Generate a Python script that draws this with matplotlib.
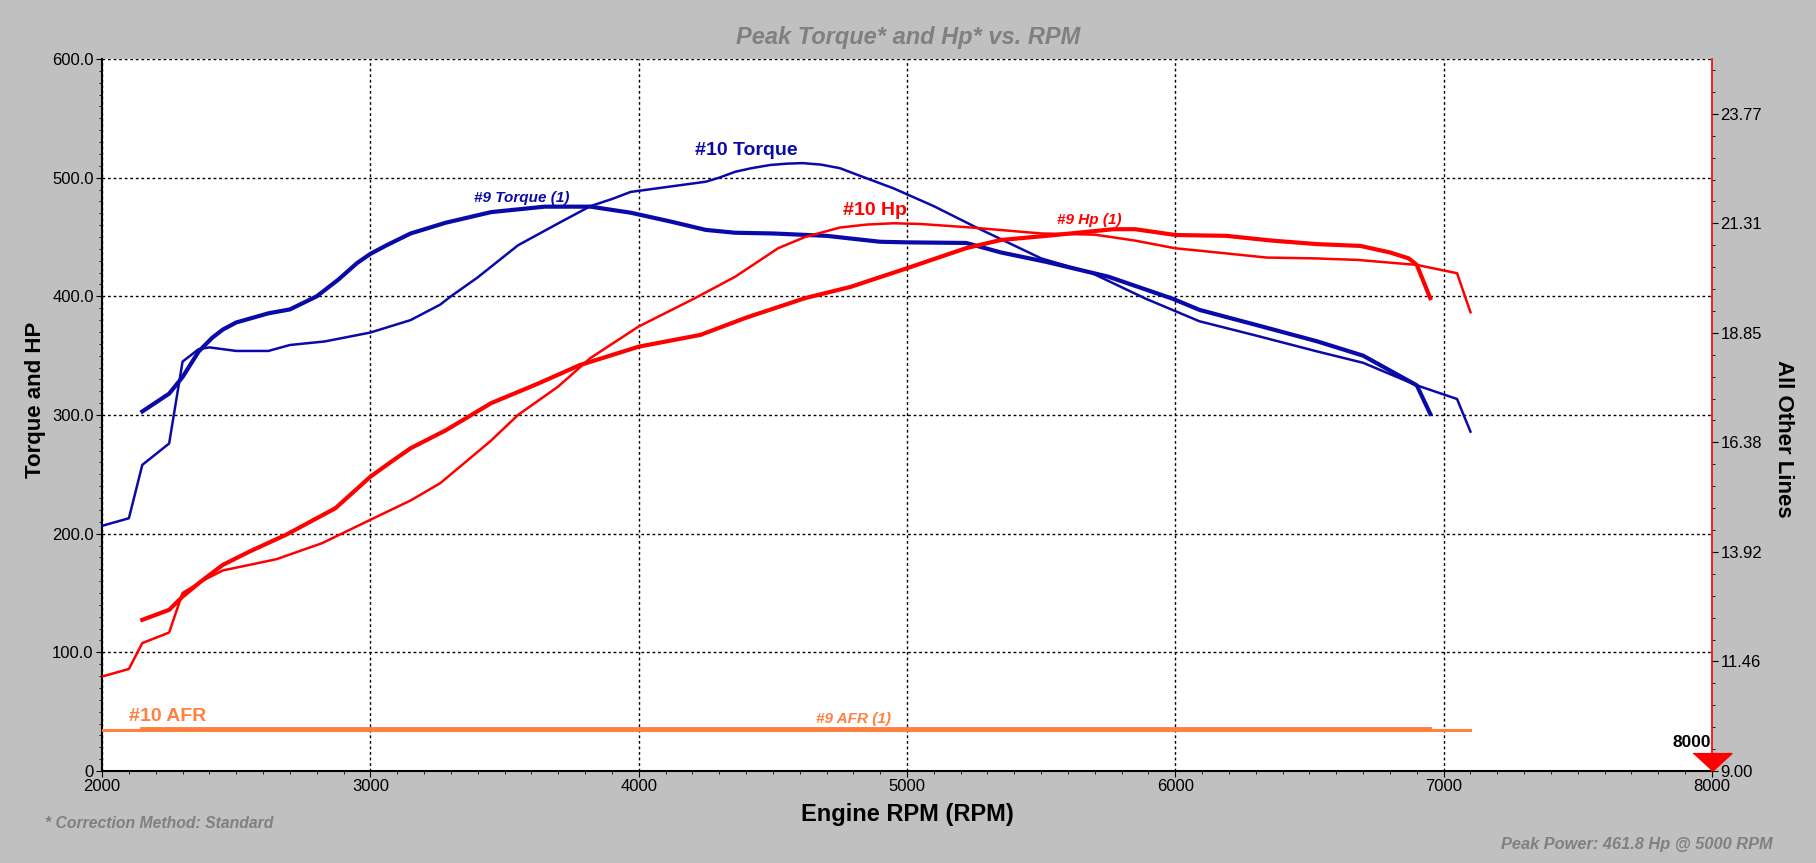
import matplotlib
matplotlib.use("Agg")
import matplotlib.pyplot as plt
from matplotlib.ticker import MultipleLocator, FixedLocator, FuncFormatter

plt.rcParams["font.family"] = ["Liberation Sans", "DejaVu Sans"]

# ---- data ----
rpm_tq10 = [2000, 2100, 2150, 2250, 2300, 2360, 2400, 2500, 2620, 2700, 2830, 3000, 3150, 3260,
            3300, 3400, 3550, 3700, 3820, 3900, 3970, 4100, 4250, 4300, 4360, 4420, 4490, 4550,
            4610, 4680, 4750, 4820, 4950, 5000, 5100, 5250, 5500, 5690, 5890, 6090, 6300, 6530,
            6700, 6900, 7050, 7100]
tq10 = [206.6, 213, 258, 276, 345, 355.5, 357, 354, 354, 359, 362, 369.5, 380, 393,
        400, 416, 443, 461.5, 476, 482, 488, 492, 496.6, 500, 505, 508, 510.7, 511.8,
        512.3, 511, 508, 502, 491, 486, 476, 459, 432, 419.5, 398, 379, 367, 353.5,
        344, 325, 313.5, 286]

rpm_tq9 = [2150, 2250, 2300, 2360, 2410, 2450, 2500, 2620, 2700, 2800, 2880, 2950, 3000, 3060,
           3150, 3280, 3450, 3650, 3820, 3970, 4120, 4250, 4360, 4500, 4700, 4900, 5000, 5220,
           5350, 5520, 5750, 5990, 6090, 6300, 6530, 6700, 6900, 6950]
tq9 = [303, 318, 332, 353.5, 365, 372, 378, 385.7, 389, 400, 414, 428, 435.8, 443,
       453, 462, 471, 475.6, 475.6, 470.5, 463, 456, 453.6, 453, 451, 446, 445.5, 445,
       437, 429, 416.6, 398, 388.6, 376, 362, 350, 325, 301]

rpm_hp10 = [2000, 2100, 2150, 2250, 2300, 2380, 2450, 2650, 2820, 3000, 3150, 3260, 3350, 3450,
            3550, 3700, 3820, 4000, 4210, 4360, 4520, 4620, 4750, 4850, 4950, 5050, 5240, 5500,
            5700, 5850, 6000, 6090, 6340, 6520, 6680, 6900, 7050, 7100]
hp10 = [79.6, 86, 107.8, 116.7, 150, 161, 169, 178.5, 192, 211.7, 228, 242.5, 259.5, 278.5,
        300, 324, 348, 374.6, 398.5, 416.6, 440.6, 450, 458, 460.5, 461.6, 461, 458, 453,
        452, 447, 440.5, 438.5, 432.7, 432, 430.7, 426.5, 419.5, 386.6]

rpm_hp9 = [2150, 2250, 2300, 2370, 2450, 2550, 2685, 2870, 3000, 3080, 3150, 3280, 3450, 3620,
           3780, 4000, 4230, 4400, 4620, 4790, 5000, 5220, 5350, 5520, 5770, 5850, 6000, 6190,
           6360, 6530, 6690, 6800, 6870, 6900, 6950]
hp9 = [127.4, 135.8, 147, 160, 173.7, 185, 199, 221.5, 248, 261, 272, 287, 310, 326,
       342, 357.6, 367.5, 382, 398.5, 408, 423.7, 440.6, 447.5, 451, 456.6, 456.6, 451.7, 451,
       447, 444, 442.5, 437, 432, 426.5, 398.5]

rpm_afr10 = [2000, 7100]
afr10 = [9.93, 9.93]
rpm_afr9 = [2150, 6950]
afr9 = [9.95, 9.95]

right_ticks = [9 + k * 16 / 6.5 for k in range(7)]

BLUE = "#0A0AA8"
RED = "#FF0000"
ORANGE = "#FF8040"
GREY_TXT = "#808080"

fig = plt.figure(figsize=(18.16, 8.63), dpi=100, facecolor="#C0C0C0")
ax = fig.add_axes([0.0562, 0.1066, 0.8865, 0.825])
ax.set_facecolor("white")

ax.plot(rpm_tq10, tq10, color=BLUE, lw=1.8, zorder=3)
ax.plot(rpm_tq9, tq9, color=BLUE, lw=3.0, zorder=3)
ax.plot(rpm_hp10, hp10, color=RED, lw=1.8, zorder=3)
ax.plot(rpm_hp9, hp9, color=RED, lw=3.0, zorder=3)

ax.set_xlim(2000, 8000)
ax.set_ylim(0, 600)
ax.xaxis.set_major_locator(MultipleLocator(1000))
ax.xaxis.set_minor_locator(MultipleLocator(100))
ax.yaxis.set_major_locator(MultipleLocator(100))
ax.yaxis.set_minor_locator(MultipleLocator(10))
ax.yaxis.set_major_formatter(FuncFormatter(lambda v, p: "0" if v == 0 else f"{v:.1f}"))
ax.grid(True, which="major", color="black", linestyle=(0, (2, 2)), linewidth=1)
ax.tick_params(which="major", direction="out", length=4, labelsize=12, pad=2)
ax.tick_params(which="minor", direction="out", length=2)
for s in ("top", "right"):
    ax.spines[s].set_visible(False)
ax.spines["left"].set_linewidth(1.5)
ax.spines["bottom"].set_linewidth(1.5)

ax2 = ax.twinx()
ax2.plot(rpm_afr10, afr10, color=ORANGE, lw=2.2, zorder=3)
ax2.plot(rpm_afr9, afr9, color=ORANGE, lw=2.8, zorder=3)
ax2.set_ylim(9, 25)
ax2.yaxis.set_major_locator(FixedLocator(right_ticks))
ax2.yaxis.set_minor_locator(FixedLocator([9 + k * 16 / 32.5 for k in range(33)]))
ax2.yaxis.set_major_formatter(FuncFormatter(lambda v, p: f"{v:.2f}"))
ax2.tick_params(which="major", direction="out", length=4, labelsize=12, pad=2)
ax2.tick_params(which="minor", direction="out", length=2)
for s in ("top", "left", "bottom"):
    ax2.spines[s].set_visible(False)
ax2.spines["right"].set_color(RED)
ax2.spines["right"].set_linewidth(1.2)

# curve labels
ax.text(4400, 523, "#10 Torque", color=BLUE, fontsize=14, fontweight="bold", ha="center", va="center")
ax.text(3563, 483, "#9 Torque (1)", color=BLUE, fontsize=11, fontweight="bold", style="italic",
        ha="center", va="center")
ax.text(4879, 472, "#10 Hp", color=RED, fontsize=14, fontweight="bold", ha="center", va="center")
ax.text(5678, 464, "#9 Hp (1)", color=RED, fontsize=11, fontweight="bold", style="italic",
        ha="center", va="center")
ax.text(2246, 46, "#10 AFR", color=ORANGE, fontsize=14, fontweight="bold", ha="center", va="center")
ax.text(4801, 44, "#9 AFR (1)", color=ORANGE, fontsize=11, fontweight="bold", style="italic",
        ha="center", va="center")

# cursor marker at 8000
ax.plot([8000], [0], marker=[(-1, 0.92), (1, 0.92), (0, 0)], markersize=28, color=RED,
        clip_on=False, zorder=5)
ax.text(7995, 24, "8000", fontsize=12.5, fontweight="bold", ha="right", va="center", zorder=6)

ax.set_xlabel("Engine RPM (RPM)", fontsize=17, fontweight="bold", labelpad=6)
ax.set_ylabel("Torque and HP", fontsize=16, fontweight="bold")
ax.yaxis.set_label_coords(-0.035, 0.522)
ax2.set_ylabel("All Other Lines", fontsize=16, fontweight="bold", rotation=-90, va="center")
ax2.yaxis.set_label_coords(1.0446, 0.467)

fig.text(0.5, 0.956, "Peak Torque* and Hp* vs. RPM", color=GREY_TXT, fontsize=17,
         fontweight="bold", style="italic", ha="center", va="center")
fig.text(0.025, 0.046, "* Correction Method: Standard", color=GREY_TXT, fontsize=11.3,
         fontweight="bold", style="italic", ha="left", va="center")
fig.text(0.976, 0.021, "Peak Power: 461.8 Hp @ 5000 RPM", color=GREY_TXT, fontsize=11.8,
         fontweight="bold", style="italic", ha="right", va="center")

fig.savefig("out.png", dpi=100, facecolor=fig.get_facecolor())
